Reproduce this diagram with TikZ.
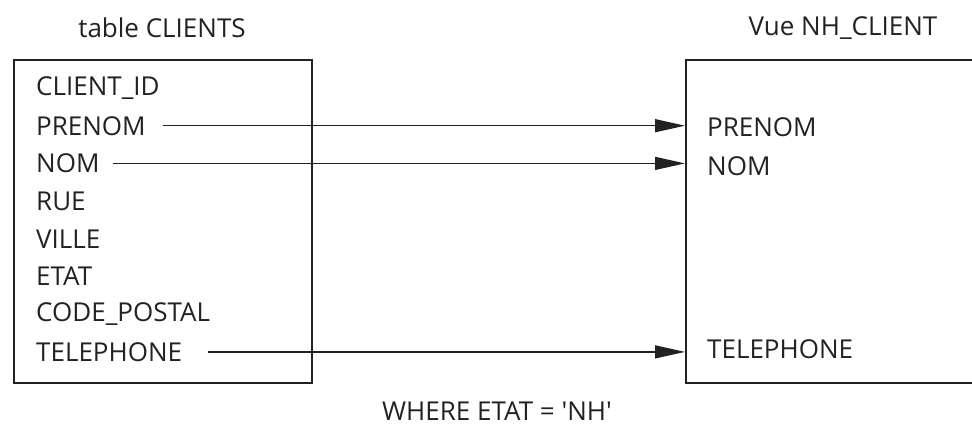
\documentclass[tikz,border=0pt]{standalone}
\usepackage{fontspec}
\setmainfont{Open Sans}[Ligatures=TeXOff]
\usepackage{tikz}
\usetikzlibrary{arrows.meta, positioning, calc}
\usepackage{xcolor}
\definecolor{ink}{HTML}{222222}
\tikzstyle{tbox} = [%
  draw=ink,
  line width=2pt,
  fill=none,
  inner sep=0pt
]
\tikzstyle{field} = [%
  anchor=west,
  inner sep=0pt,
  minimum height=37.3pt,
  text=ink,
  font=\fontsize{26}{30}\selectfont
]

\begin{document}
\begin{tikzpicture}[%
  x=1pt, y=-1pt,
  >={Triangle[length=30pt,width=13pt]},
  every node/.style={text=ink},
  title/.style={font=\fontsize{26}{30}\selectfont, inner sep=0pt},
  link/.style={->, draw=ink, line width=1.3pt}
]
  \useasboundingbox (0,0) rectangle (972,426);

  % Boxes
  \node[tbox,anchor=north west,minimum width=298pt,minimum height=323pt] (clients) at (13,59) {};
  \node[tbox,anchor=north west,minimum width=310pt,minimum height=323pt] (vue) at (685,59) {};

  % Titles
  \node[title] (tclients) at (162,28) {table CLIENTS};
  \node[title] (tvue) at (843,28) {Vue NH\_CLIENT};
  \node[title] (where) at (497,411) {WHERE ETAT = 'NH'};

  % Table fields
  \node[field] (cid) at (36,88) {CLIENT\_ID};
  \node[field,below=0pt of cid.south west,anchor=north west] (cprenom) {PRENOM};
  \node[field,below=0pt of cprenom.south west,anchor=north west] (cnom) {NOM};
  \node[field,below=0pt of cnom.south west,anchor=north west] (crue) {RUE};
  \node[field,below=0pt of crue.south west,anchor=north west] (cville) {VILLE};
  \node[field,below=0pt of cville.south west,anchor=north west] (cetat) {ETAT};
  \node[field,below=0pt of cetat.south west,anchor=north west] (ccode) {CODE\_POSTAL};
  \node[field,below=0pt of ccode.south west,anchor=north west] (ctel) {TELEPHONE};

  % View fields
  \node[field] (vprenom) at (707,127) {PRENOM};
  \node[field] (vnom) at (707,166) {NOM};
  \node[field] (vtel) at (707,349) {TELEPHONE};

  % Links
  \draw[link,shorten <=17pt] (cprenom.east) -- (cprenom.east -| vue.west);
  \draw[link,shorten <=13pt] (cnom.east) -- (cnom.east -| vue.west);
  \draw[link,shorten <=26pt] (ctel.east) -- (ctel.east -| vue.west);

\end{tikzpicture}
\end{document}
